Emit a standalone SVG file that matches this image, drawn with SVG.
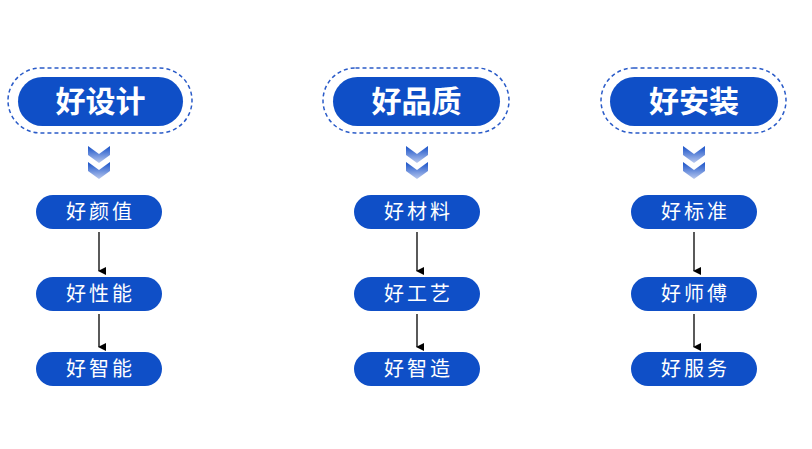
<svg xmlns="http://www.w3.org/2000/svg" width="812" height="449" viewBox="0 0 812 449">
<defs>
<linearGradient id="cg" x1="0" y1="0" x2="0" y2="1"><stop offset="0" stop-color="#1650c8"/><stop offset="1" stop-color="#b8c8ee"/></linearGradient>
<marker id="ah" markerWidth="8" markerHeight="8" refX="4" refY="7" orient="auto" markerUnits="userSpaceOnUse"><path d="M0,0 L8,0 L4,8 Z" fill="#000"/></marker>
<g id="chev"><path d="M-11,0 L0,8 L11,0 L11,9 L0,17 L-11,9 Z" fill="url(#cg)"/></g>
</defs>
<style>
.hp{fill:#0f4fc7}
.dash{fill:none;stroke:#2a5bc8;stroke-width:1.5;stroke-dasharray:4 3}
.ht{font-family:"Noto Sans CJK SC",sans-serif;font-weight:bold;font-size:30px;fill:#fff;text-anchor:middle}
.st{font-family:"Noto Sans CJK SC",sans-serif;font-size:20px;fill:#fff;text-anchor:middle;letter-spacing:3px}
.ln{stroke:#000;stroke-width:1.3;marker-end:url(#ah)}
</style>
<rect width="812" height="449" fill="#fff"/>
<g id="h1"><rect class="dash" x="8" y="68" width="184" height="65" rx="32.5"/><rect class="hp" x="18" y="77" width="165" height="49" rx="24.5"/><text class="ht" x="100.5" y="112">好设计</text></g>
<g id="h2"><rect class="dash" x="323" y="68" width="186" height="65" rx="32.5"/><rect class="hp" x="333" y="77" width="167" height="49" rx="24.5"/><text class="ht" x="416.5" y="112">好品质</text></g>
<g id="h3"><rect class="dash" x="601" y="68" width="185" height="65" rx="32.5"/><rect class="hp" x="610" y="77" width="168" height="49" rx="24.5"/><text class="ht" x="694" y="112">好安装</text></g>
<use href="#chev" x="99" y="146"/><use href="#chev" x="99" y="162"/>
<use href="#chev" x="417" y="146"/><use href="#chev" x="417" y="162"/>
<use href="#chev" x="694" y="146"/><use href="#chev" x="694" y="162"/>
<g id="a1"><rect class="hp" x="36" y="195" width="126" height="34" rx="17"/><text class="st" x="100.5" y="219">好颜值</text></g>
<g id="a2"><rect class="hp" x="36" y="277" width="126" height="34" rx="17"/><text class="st" x="100.5" y="301">好性能</text></g>
<g id="a3"><rect class="hp" x="36" y="352" width="126" height="34" rx="17"/><text class="st" x="100.5" y="376">好智能</text></g>
<g id="b1"><rect class="hp" x="354" y="195" width="126" height="34" rx="17"/><text class="st" x="418.5" y="219">好材料</text></g>
<g id="b2"><rect class="hp" x="354" y="277" width="126" height="34" rx="17"/><text class="st" x="418.5" y="301">好工艺</text></g>
<g id="b3"><rect class="hp" x="354" y="352" width="126" height="34" rx="17"/><text class="st" x="418.5" y="376">好智造</text></g>
<g id="c1"><rect class="hp" x="631" y="195" width="126" height="34" rx="17"/><text class="st" x="695.5" y="219">好标准</text></g>
<g id="c2"><rect class="hp" x="631" y="277" width="126" height="34" rx="17"/><text class="st" x="695.5" y="301">好师傅</text></g>
<g id="c3"><rect class="hp" x="631" y="352" width="126" height="34" rx="17"/><text class="st" x="695.5" y="376">好服务</text></g>
<g id="connectors">
<line class="ln" x1="99" y1="232" x2="99" y2="271"/><line class="ln" x1="99" y1="314" x2="99" y2="347"/>
<line class="ln" x1="417" y1="232" x2="417" y2="271"/><line class="ln" x1="417" y1="314" x2="417" y2="347"/>
<line class="ln" x1="694" y1="232" x2="694" y2="271"/><line class="ln" x1="694" y1="314" x2="694" y2="347"/>
</g>
</svg>
